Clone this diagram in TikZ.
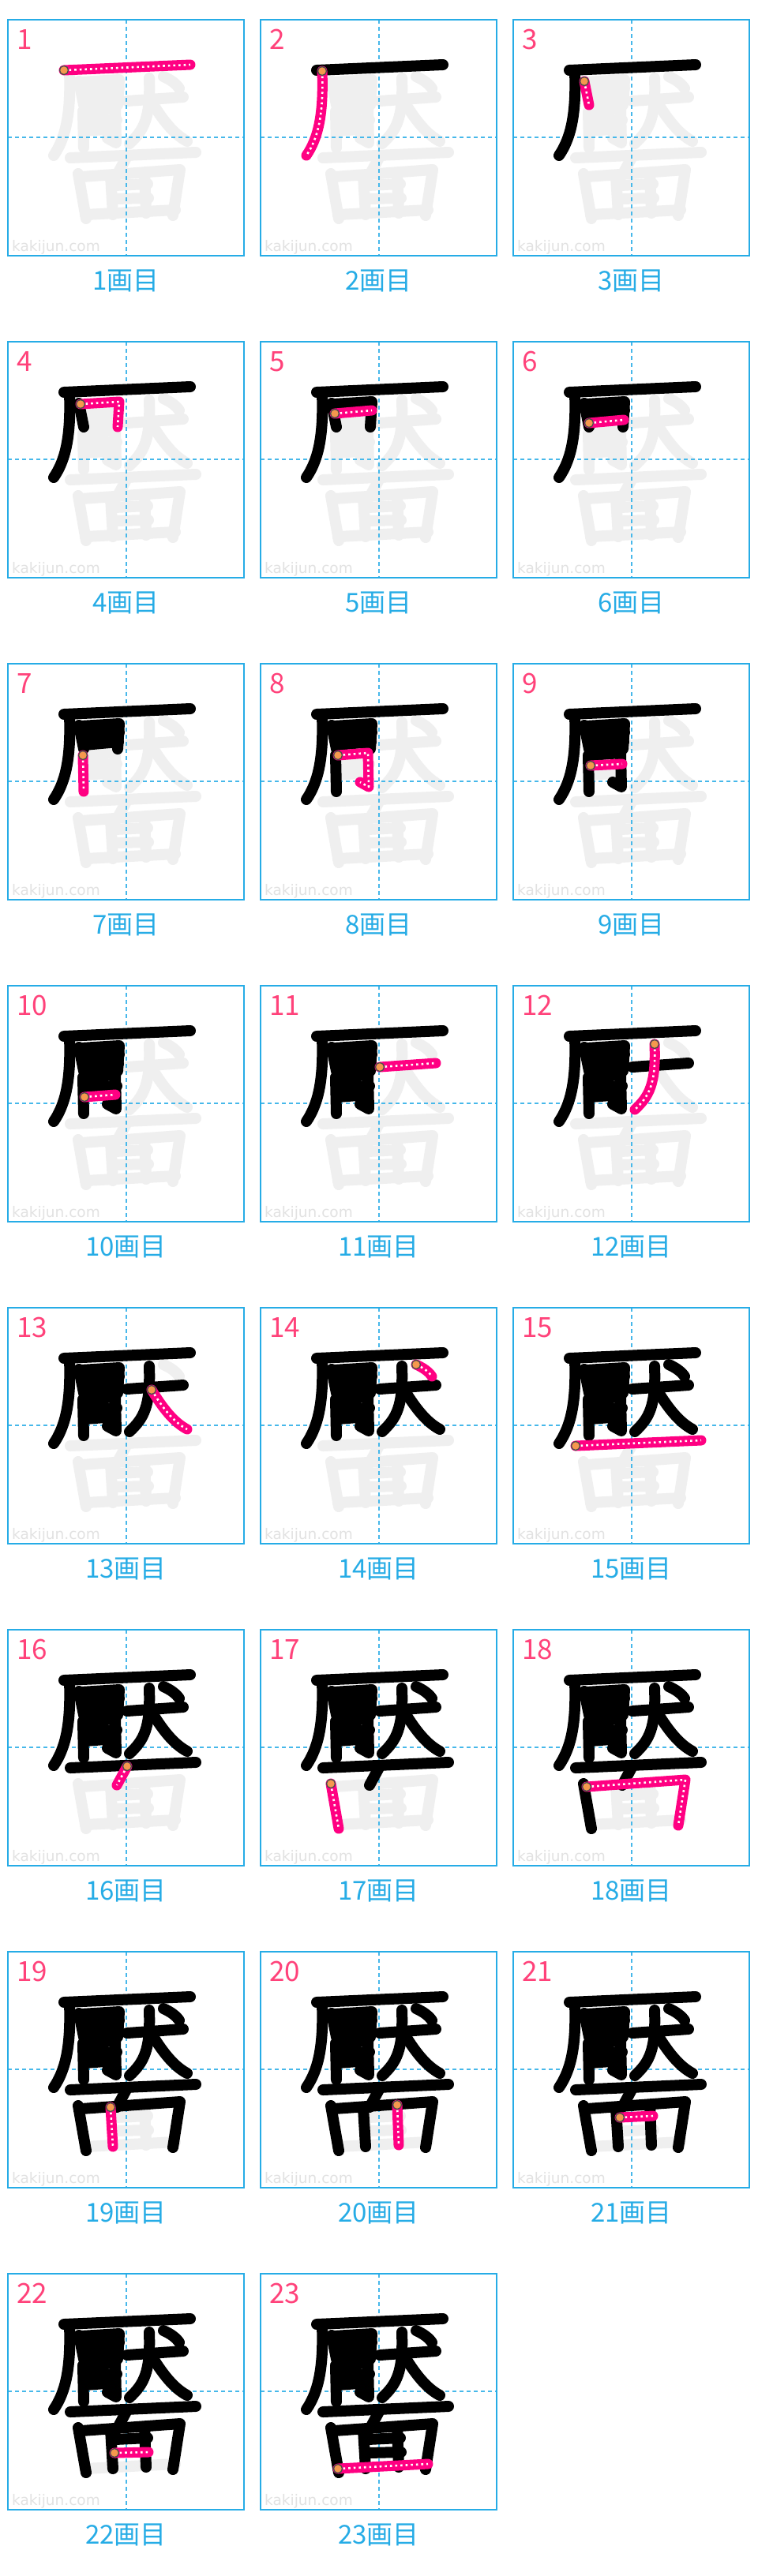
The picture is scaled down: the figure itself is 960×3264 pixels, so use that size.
\documentclass[tikz,border=0pt]{standalone}
\usepackage{fontspec}
\newfontfamily\jpfont{Noto Sans CJK JP}
\newfontfamily\markfont{DejaVu Sans}
\definecolor{boxblue}{RGB}{38,172,230}
\definecolor{numpink}{RGB}{255,66,122}
\definecolor{inkpink}{RGB}{255,0,130}
\definecolor{ghost}{RGB}{239,239,239}
\definecolor{dotorange}{RGB}{246,152,78}
\definecolor{markgray}{RGB}{226,226,226}

% stroke n: start point, rest of path (box pixels, y down)
\newcommand\defstroke[3]{%
  \expandafter\def\csname kstart#1\endcsname{#2}%
  \expandafter\def\csname kpath#1\endcsname{(#2) #3}}
\newcommand\usestroke[1]{%
  \expandafter\let\expandafter\curpath\csname kpath#1\endcsname
  \expandafter\let\expandafter\curstart\csname kstart#1\endcsname}

\defstroke{1}{71,64}{-- (231,57)}
\defstroke{2}{78,65}{.. controls (80,120) and (73,150) .. (58,172)}
\defstroke{3}{90,78}{-- (96,108)}
\defstroke{4}{92,79}{-- (141,76) -- (139,108)}
\defstroke{5}{94,91}{-- (141,87)}
\defstroke{6}{96,103}{-- (140,99)}
\defstroke{7}{95,116}{-- (96,162)}
\defstroke{8}{98,116}{-- (136,113) -- (137,156) -- (126,150)}
\defstroke{9}{98,129}{-- (138,127)}
\defstroke{10}{97,141}{-- (136,138)}
\defstroke{11}{151,103}{-- (222,98)}
\defstroke{12}{179,74}{.. controls (181,125) and (172,140) .. (154,157)}
\defstroke{13}{182,104}{.. controls (196,127) and (210,145) .. (227,154)}
\defstroke{14}{197,72}{.. controls (206,76) and (213,81) .. (217,87)}
\defstroke{15}{79,175}{-- (238,168)}
\defstroke{16}{151,173}{-- (138,197)}
\defstroke{17}{89,195}{-- (99,252)}
\defstroke{18}{93,199}{-- (218,190) -- (209,248)}
\defstroke{19}{130,197}{-- (133,247)}
\defstroke{20}{173,194}{-- (175,245)}
\defstroke{21}{135,210}{-- (177,208)}
\defstroke{22}{135,227}{-- (178,226)}
\defstroke{23}{98,247}{-- (212,241)}

\begin{document}
\begin{tikzpicture}[x=1pt, y=-1pt,
    boxline/.style={draw=boxblue, line width=1.8pt},
    guide/.style={boxblue!85, line width=1.6pt, dash pattern=on 5pt off 4pt},
    ghoststroke/.style={ghost, line width=14pt, line cap=round, line join=round},
    donestroke/.style={black, line width=14pt, line cap=round, line join=round},
    inkstroke/.style={inkpink, line width=13pt, line cap=round, line join=round},
    inkdots/.style={white, line width=2.6pt, dash pattern=on 2.6pt off 4pt, line join=round},
    startdot/.style={circle, fill=dotorange, draw=black!70, line width=1.3pt,
      minimum size=11pt, inner sep=0pt},
    numlabel/.style={numpink, anchor=west, inner sep=0pt,
      font=\jpfont\fontsize{35}{35}\selectfont},
    steplabel/.style={boxblue, inner sep=0pt, font=\jpfont\fontsize{33}{33}\selectfont},
    watermark/.style={markgray, anchor=west, inner sep=0pt,
      font=\markfont\fontsize{18.5}{18.5}\selectfont}]
  \useasboundingbox[fill=white] (0,0) rectangle (960,3264);
  \foreach \p in {1,...,23} {
    \pgfmathtruncatemacro\row{(\p-1)/3}
    \pgfmathtruncatemacro\col{mod(\p-1,3)}
    \begin{scope}[shift={(10+320*\col,25+408*\row)}]
      % strokes still to come
      \foreach \s in {1,...,23} {
        \ifnum\s>\p \usestroke{\s}\draw[ghoststroke] \curpath; \fi
      }
      \node[watermark] (mark-\p) at (5,288) {kakijun.com};
      \draw[guide] (150,0) -- (150,299);
      \draw[guide] (0,149) -- (299,149);
      % strokes already written
      \foreach \s in {1,...,23} {
        \ifnum\s<\p \usestroke{\s}\draw[donestroke] \curpath; \fi
      }
      % current stroke
      \usestroke{\p}
      \draw[inkstroke] \curpath;
      \draw[inkdots] \curpath;
      \node[startdot] (dot-\p) at (\curstart) {};
      \draw[boxline] (0,0) rectangle (299,299);
      \node[numlabel] (num-\p) at (11,25) {\p};
      \node[steplabel] (step-\p) at (149.5,331) {\p 画目};
    \end{scope}
  }
\end{tikzpicture}
\end{document}
